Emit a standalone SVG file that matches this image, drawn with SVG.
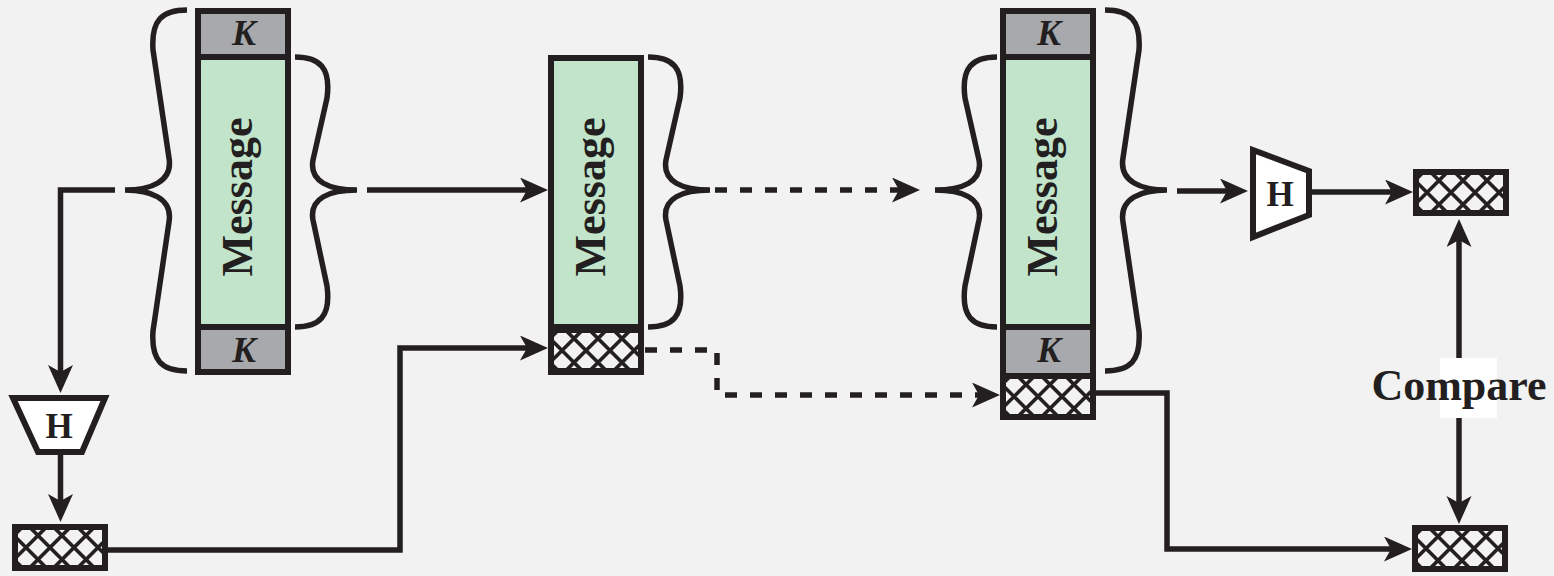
<svg xmlns="http://www.w3.org/2000/svg" xmlns:xlink="http://www.w3.org/1999/xlink" width="1554" height="576" viewBox="0 0 1554 576">
  <style>
    .bg { fill: #f2f2f2; }
    .frame { fill: none; stroke: #231f20; stroke-width: 6; }
    .sep { stroke: #231f20; stroke-width: 6; }
    .key { fill: #a7a9ac; }
    .msg { fill: #c1e4cb; }
    .brace { fill: none; stroke: #231f20; stroke-width: 5.5; stroke-linecap: butt; }
    .wire { fill: none; stroke: #231f20; stroke-width: 5.5; stroke-linejoin: miter; }
    .dash { stroke-dasharray: 12 13; }
    .hfun { fill: #ffffff; stroke: #231f20; stroke-width: 6; stroke-linejoin: miter; }
    .hatch { stroke: #231f20; stroke-width: 3.6; }
    .lbl { font-family: "Liberation Serif", "Times New Roman", serif; font-weight: bold; fill: #231f20; }
    .k { font-style: italic; font-size: 36px; text-anchor: middle; }
    .h { font-size: 35px; text-anchor: middle; }
    .m { font-size: 44px; text-anchor: middle; }
  </style>
  <defs>
    <marker id="arrow" markerUnits="userSpaceOnUse" markerWidth="30" markerHeight="26" refX="10" refY="12.5" orient="auto-start-reverse">
      <path d="M0,0 L28,12.5 L0,25 L7,12.5 Z" fill="#231f20"/>
    </marker>
    <clipPath id="hatchClip">
      <rect x="6" y="6" width="84" height="35"/>
    </clipPath>
    <!-- cross-hatched digest box, 96 x 47 -->
    <g id="hatchBox">
      <rect x="3" y="3" width="90" height="41" class="bg"/>
      <g clip-path="url(#hatchClip)" class="hatch">
        <path d="M-40,-6.5 L20,53.5 M-16,-6.5 L44,53.5 M8,-6.5 L68,53.5 M32,-6.5 L92,53.5 M56,-6.5 L116,53.5 M80,-6.5 L140,53.5
                 M20,-6.5 L-40,53.5 M44,-6.5 L-16,53.5 M68,-6.5 L8,53.5 M92,-6.5 L32,53.5 M116,-6.5 L56,53.5 M140,-6.5 L80,53.5"/>
      </g>
      <rect x="3" y="3" width="90" height="41" class="frame"/>
    </g>
  </defs>

  <rect x="0" y="0" width="1554" height="576" class="bg"/>

  <!-- sender: K | Message | K -->
  <g id="sender-block">
    <rect x="198" y="11" width="90" height="46" class="key"/>
    <rect x="198" y="57" width="90" height="270" class="msg"/>
    <rect x="198" y="327" width="90" height="45" class="key"/>
    <line x1="195" y1="57" x2="291" y2="57" class="sep"/>
    <line x1="195" y1="327" x2="291" y2="327" class="sep"/>
    <rect x="198" y="11" width="90" height="361" class="frame"/>
    <text x="244" y="45" class="lbl k">K</text>
    <text x="244" y="362" class="lbl k">K</text>
    <text transform="translate(252,197) rotate(-90)" class="lbl m">Message</text>
    <path class="brace" d="M187,10 C162,10 151,20 153,50 L169,158 C173,182 150,190 125,190 C150,190 173,198 169,222 L153,331 C151,361 162,371 187,371"/>
    <path class="brace" d="M295,57 C320,57 331,68 327,98 L313,160 C309,182 330,190 357,190 C330,190 309,198 313,220 L327,286 C331,316 320,327 295,327"/>
  </g>

  <!-- transmitted: Message | digest -->
  <g id="sent-block">
    <rect x="551" y="58" width="90" height="269" class="msg"/>
    <line x1="548" y1="327" x2="644" y2="327" class="sep"/>
    <use xlink:href="#hatchBox" x="548" y="327"/>
    <rect x="551" y="58" width="90" height="314" class="frame"/>
    <text transform="translate(605,197) rotate(-90)" class="lbl m">Message</text>
    <path class="brace" d="M648,57 C673,57 684,68 680,98 L666,160 C662,182 683,190 710,190 C683,190 662,198 666,220 L680,286 C684,316 673,327 648,327"/>
  </g>

  <!-- receiver: K | Message | K | digest -->
  <g id="receiver-block">
    <rect x="1003" y="11" width="90" height="46" class="key"/>
    <rect x="1003" y="57" width="90" height="270" class="msg"/>
    <rect x="1003" y="327" width="90" height="46" class="key"/>
    <line x1="1000" y1="57" x2="1096" y2="57" class="sep"/>
    <line x1="1000" y1="327" x2="1096" y2="327" class="sep"/>
    <use xlink:href="#hatchBox" x="1000" y="373"/>
    <rect x="1003" y="11" width="90" height="406" class="frame"/>
    <text x="1049" y="45" class="lbl k">K</text>
    <text x="1049" y="362" class="lbl k">K</text>
    <text transform="translate(1057,197) rotate(-90)" class="lbl m">Message</text>
    <path class="brace" d="M997,57 C972,57 961,68 965,98 L979,160 C983,182 962,190 935,190 C962,190 983,198 979,220 L965,286 C961,316 972,327 997,327"/>
    <path class="brace" d="M1105,10 C1130,10 1141,20 1139,50 L1123,158 C1119,182 1142,190 1167,190 C1142,190 1119,198 1123,222 L1139,331 C1141,361 1130,371 1105,371"/>
  </g>

  <!-- hash functions -->
  <g id="hash-send">
    <polygon points="13,398 105,398 82,452 38,452" class="hfun"/>
    <text x="59" y="438" class="lbl h">H</text>
  </g>
  <g id="hash-recv">
    <polygon points="1253,150 1309,171 1309,215 1253,237" class="hfun"/>
    <text x="1280" y="206" class="lbl h">H</text>
  </g>

  <!-- digests -->
  <g id="digest-send"><use xlink:href="#hatchBox" x="12" y="524"/></g>
  <g id="digest-recomputed"><use xlink:href="#hatchBox" x="1413" y="169"/></g>
  <g id="digest-received"><use xlink:href="#hatchBox" x="1412" y="525"/></g>

  <!-- connectors -->
  <g id="connectors">
    <path class="wire" d="M115,190 H60.5 V375" marker-end="url(#arrow)"/>
    <path class="wire" d="M60.5,455 V504" marker-end="url(#arrow)"/>
    <path class="wire" d="M108,550 H400 V348 H530" marker-end="url(#arrow)"/>
    <path class="wire" d="M367,190 H530" marker-end="url(#arrow)"/>
    <path class="wire dash" d="M715,190 H902" marker-end="url(#arrow)"/>
    <path class="wire dash" d="M645,350 H717 V395 H982" marker-end="url(#arrow)"/>
    <path class="wire" d="M1177,191 H1230" marker-end="url(#arrow)"/>
    <path class="wire" d="M1312,192 H1395" marker-end="url(#arrow)"/>
    <path class="wire" d="M1096,393 H1167 V549 H1394" marker-end="url(#arrow)"/>
    <path class="wire" d="M1459,237 V506" marker-start="url(#arrow)" marker-end="url(#arrow)"/>
  </g>

  <!-- comparison label -->
  <g id="compare-label">
    <rect x="1440" y="358" width="57" height="60" fill="#ffffff"/>
    <text x="1459" y="400" class="lbl" font-size="44" text-anchor="middle">Compare</text>
  </g>
</svg>
